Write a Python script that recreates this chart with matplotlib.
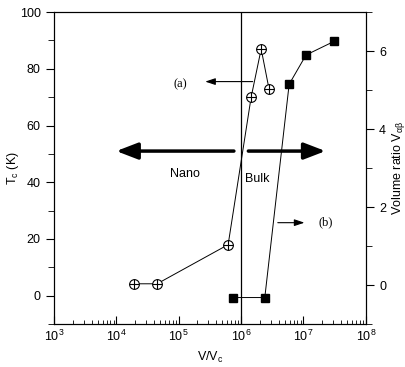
import matplotlib
matplotlib.use('Agg')
import matplotlib.pyplot as plt
from matplotlib.ticker import MultipleLocator, LogLocator, NullFormatter

plt.rcParams['font.family'] = ['Liberation Sans', 'DejaVu Sans']
plt.rcParams['mathtext.fontset'] = 'custom'
plt.rcParams['mathtext.rm'] = 'Liberation Sans'
plt.rcParams['mathtext.it'] = 'Liberation Sans'

# Tc data (left axis)
tc_x = [1.9e4, 4.5e4, 6.2e5, 1.45e6, 2.1e6, 2.8e6]
tc_y = [4.2, 4.2, 18, 70, 87, 73]

# volume ratio data (right axis)
vr_x = [7.4e5, 2.4e6, 5.9e6, 1.1e7, 3.1e7]
vr_y = [-0.32, -0.32, 5.15, 5.9, 6.25]

fig = plt.figure(figsize=(4.06, 3.67), dpi=100)
ax = fig.add_axes([0.133, 0.117, 0.768, 0.85])
ax2 = ax.twinx()

ax.set_xscale('log')
ax.set_xlim(1e3, 1e8)
ax.set_ylim(-10, 100)
ax2.set_ylim(-1, 7)

ax.axvline(1e6, color='black', lw=0.9)

ax.plot(tc_x, tc_y, '-', color='black', lw=0.7, marker='o', ms=7,
        mfc='white', mec='black', mew=0.8, zorder=3)
ax.plot(tc_x, tc_y, ls='none', marker='+', ms=7, mec='black', mew=0.8, zorder=4)

ax2.plot(vr_x, vr_y, '-', color='black', lw=0.7, marker='s', ms=6,
         mfc='black', mec='black', zorder=3)

# big arrows
ax.annotate('', xy=(9e3, 51), xytext=(8.5e5, 51),
            arrowprops=dict(arrowstyle='-|>,head_length=1.3,head_width=0.5', lw=2.5, color='black'))
ax.annotate('', xy=(2.5e7, 51), xytext=(1.18e6, 51),
            arrowprops=dict(arrowstyle='-|>,head_length=1.3,head_width=0.5', lw=2.5, color='black'))
ax.text(1.25e5, 43, 'Nano', fontsize=9, ha='center', va='center')
ax.text(1.8e6, 41, 'Bulk', fontsize=9, ha='center', va='center')

# (a) and (b) pointers
ax.annotate('', xy=(2.4e5, 75.5), xytext=(1.7e6, 75.5),
            arrowprops=dict(arrowstyle='-|>,head_length=0.6,head_width=0.2', lw=0.8, color='black'))
ax.text(1.05e5, 74.5, '(a)', fontsize=9, family='Liberation Serif', ha='center', va='center')
ax2.annotate('', xy=(1.15e7, 1.6), xytext=(3.5e6, 1.6),
             arrowprops=dict(arrowstyle='-|>,head_length=0.6,head_width=0.2', lw=0.8, color='black'))
ax2.text(2.3e7, 1.6, '(b)', fontsize=9, family='Liberation Serif', ha='center', va='center')

ax.yaxis.set_major_locator(MultipleLocator(20))
ax.yaxis.set_minor_locator(MultipleLocator(10))
ax2.yaxis.set_major_locator(MultipleLocator(2))
ax2.yaxis.set_minor_locator(MultipleLocator(1))
ax.xaxis.set_major_locator(LogLocator(base=10, numticks=10))
ax.xaxis.set_minor_locator(LogLocator(base=10, subs=range(2, 10), numticks=20))
ax.xaxis.set_minor_formatter(NullFormatter())

ax.tick_params(axis='x', which='both', direction='in', labelsize=9)
ax.tick_params(axis='x', which='major', length=6)
ax.tick_params(axis='x', which='minor', length=3)
ax.tick_params(axis='y', which='both', direction='out', labelsize=9)
ax.tick_params(axis='y', which='major', length=6)
ax.tick_params(axis='y', which='minor', length=4)
ax2.tick_params(axis='y', which='both', direction='out', labelsize=9)
ax2.tick_params(axis='y', which='major', length=6)
ax2.tick_params(axis='y', which='minor', length=4)

ax.set_xlabel('V/V$_\\mathrm{c}$', fontsize=9)
ax.set_ylabel('T$_\\mathrm{c}$ (K)', fontsize=9)
ax2.set_ylabel('Volume ratio V$_{\\alpha\\beta}$', fontsize=9)
ax.yaxis.set_label_coords(-0.105, 0.5)
ax2.yaxis.set_label_coords(1.078, 0.5)

fig.savefig('out.png', dpi=100)
